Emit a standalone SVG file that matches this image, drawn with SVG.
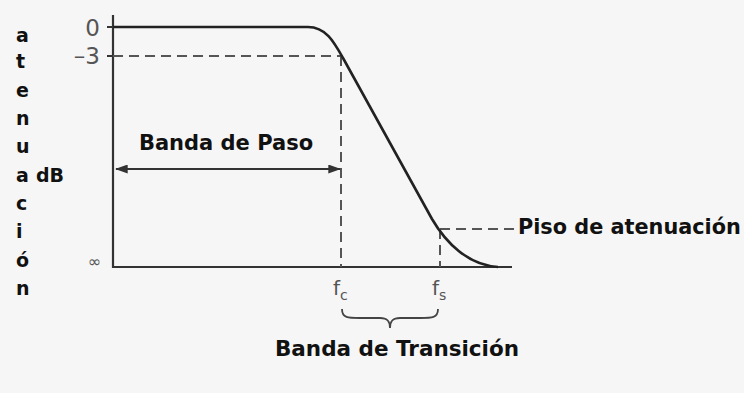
<svg xmlns="http://www.w3.org/2000/svg" width="744" height="393" viewBox="0 0 744 393">
<style>
.bold{font-family:"DejaVu Sans","Liberation Sans",sans-serif;font-weight:bold;fill:#111}
.lbl{font-family:"DejaVu Sans","Liberation Sans",sans-serif;fill:#555}
.axis{stroke:#333;stroke-width:2.2;fill:none}
.dash{stroke:#555;stroke-width:2;stroke-dasharray:10,6;fill:none}
.curve{stroke:#222;stroke-width:2.6;fill:none}
</style>
<defs>
<marker id="ah" viewBox="0 0 14 10" refX="13" refY="5" markerWidth="14" markerHeight="9" markerUnits="userSpaceOnUse" orient="auto-start-reverse">
<path d="M0,0 L14,5 L0,10 Z" fill="#333"/>
</marker>
</defs>
<rect width="744" height="393" fill="#f6f6f6"/>
<g id="axes">
<path class="axis" d="M113,15 L113,267 L512,267"/>
<path class="axis" d="M107,27 L113,27 M107,56 L113,56" stroke-width="1.5"/>
</g>
<g id="y-labels">
<text class="lbl" x="100" y="36" font-size="23" text-anchor="end">0</text>
<text class="lbl" x="100" y="64" font-size="23" text-anchor="end">–3</text>
<text class="lbl" x="101" y="267" font-size="16" text-anchor="end">∞</text>
</g>
<g id="y-title" class="bold" font-size="19">
<text x="16" y="42">a</text>
<text x="16" y="68">t</text>
<text x="16" y="97">e</text>
<text x="16" y="125">n</text>
<text x="16" y="153">u</text>
<text x="16" y="182">a</text>
<text x="36" y="182">dB</text>
<text x="16" y="210">c</text>
<text x="16" y="238">i</text>
<text x="16" y="267">ó</text>
<text x="16" y="295">n</text>
</g>
<g id="connectors">
<path class="dash" d="M113,56 L341,56 M341,56 L341,267"/>
<path class="dash" d="M440,229 L440,267 M440,229 L515,229"/>
<line x1="116" y1="169" x2="340" y2="169" stroke="#333" stroke-width="2" marker-start="url(#ah)" marker-end="url(#ah)"/>
<path d="M342,309 C342,318 348,318 360,318 L380,318 C388,318 390,322 390,328 C390,322 392,318 400,318 L420,318 C432,318 438,318 438,309" fill="none" stroke="#444" stroke-width="1.8"/>
</g>
<g id="response">
<path class="curve" d="M113,27 L308,27 C326,27 334,42 343,58 L432,219 C446,243 468,265 498,267"/>
</g>
<g id="banda-paso">
<text class="bold" x="226" y="150" font-size="21" text-anchor="middle">Banda de Paso</text>
</g>
<g id="piso">
<text class="bold" x="518" y="234" font-size="20.8">Piso de atenuación</text>
</g>
<g id="freq-labels" class="lbl">
<text x="333" y="295" font-size="20">f<tspan font-size="14" dy="5">c</tspan></text>
<text x="432" y="295" font-size="20">f<tspan font-size="14" dy="5">s</tspan></text>
</g>
<g id="banda-transicion">
<text class="bold" x="397" y="356" font-size="21.5" text-anchor="middle">Banda de Transición</text>
</g>
</svg>
